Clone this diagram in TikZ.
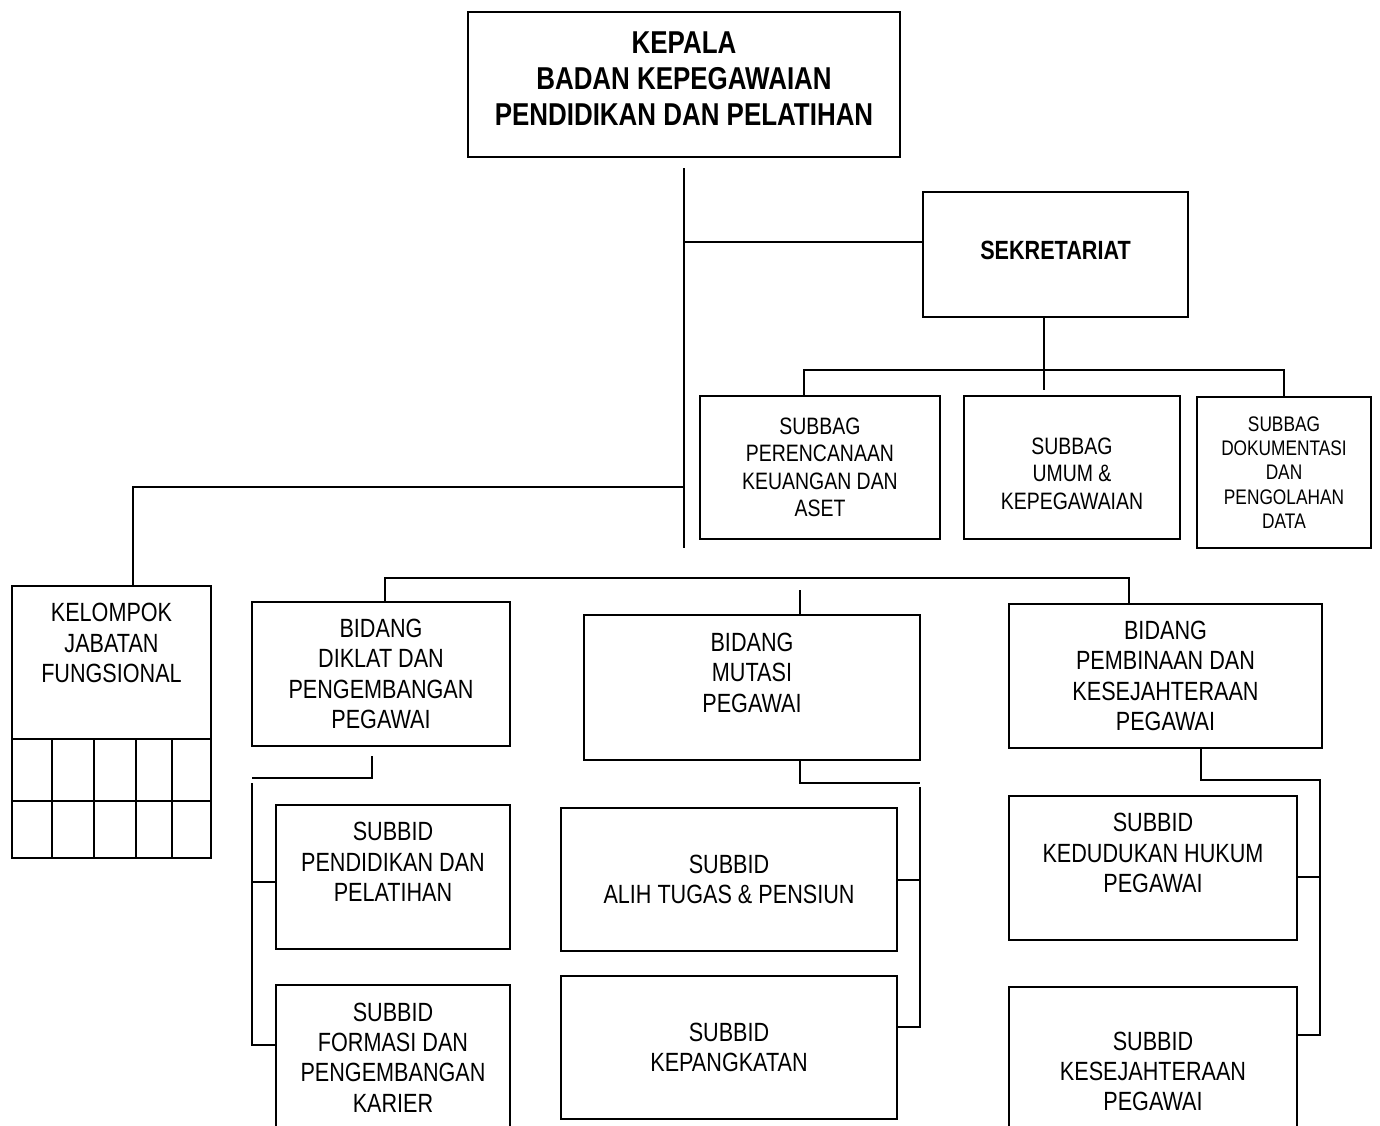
\documentclass[tikz,border=0pt]{standalone}
\usepackage{fontspec}
\setmainfont{Liberation Sans}[FakeStretch=0.82]
\usetikzlibrary{calc}
\newcommand{\textlift}[1]{\rule[-#1]{0pt}{#1}}
\newcommand{\textdrop}[1]{\rule{0pt}{#1}}

\begin{document}
\begin{tikzpicture}[x=0.02cm, y=-0.02cm, line width=1pt,
  unit/.style 2 args={draw, inner sep=0pt, outer sep=0pt, align=center,
    minimum width=#1*0.02cm, minimum height=#2*0.02cm},
  headtext/.style={font=\bfseries\fontsize{18}{20.5}\selectfont},
  boldtext/.style={font=\bfseries\fontsize{15}{17.3}\selectfont},
  bigtext/.style={font=\fontsize{15}{17.3}\selectfont},
  midtext/.style={font=\fontsize{13.5}{15.6}\selectfont},
  smalltext/.style={font=\fontsize{12}{13.8}\selectfont}]
  \useasboundingbox (0,0) rectangle (1380,1126);

  % Kepala
  \node[unit={432}{145}, headtext] (kepala) at (684,84.5) {KEPALA\\BADAN KEPEGAWAIAN\\PENDIDIKAN DAN PELATIHAN\textlift{7pt}};

  % Sekretariat dan subbag
  \node[unit={265}{125}, boldtext] (sekre) at (1055.5,254.5) {SEKRETARIAT\textlift{5pt}};
  \node[unit={240}{143}, midtext] (sbrenc) at (820,467.5) {SUBBAG\\PERENCANAAN\\KEUANGAN DAN\\ASET};
  \node[unit={216}{143}, midtext] (sbumum) at (1072,467.5) {\textdrop{16.5pt}SUBBAG\\UMUM \&\\KEPEGAWAIAN};
  \node[unit={174}{151}, smalltext] (sbdok) at (1284,472.5) {SUBBAG\\DOKUMENTASI\\DAN\\PENGOLAHAN\\DATA};

  % Kelompok jabatan fungsional
  \node[unit={199}{153}, bigtext] (kjf) at (111.5,662.5) {KELOMPOK\\JABATAN\\FUNGSIONAL\textlift{22pt}};
  \draw (kjf.south west) rectangle (211,858);
  \draw (12,801) -- (211,801);
  \foreach \gx in {52,94,136,172}
    \draw (\gx,739) -- (\gx,858);

  % Bidang
  \node[unit={258}{144}, bigtext] (bdiklat) at (381,674) {BIDANG\\DIKLAT DAN\\PENGEMBANGAN\\PEGAWAI};
  \node[unit={336}{145}, bigtext] (bmutasi) at (752,687.5) {BIDANG\\MUTASI\\PEGAWAI\textlift{17pt}};
  \node[unit={313}{144}, bigtext] (bbina) at (1165.5,676) {BIDANG\\PEMBINAAN DAN\\KESEJAHTERAAN\\PEGAWAI};

  % Subbid
  \node[unit={234}{144}, bigtext] (sdidik) at (393,877) {SUBBID\\PENDIDIKAN DAN\\PELATIHAN\textlift{17pt}};
  \node[unit={234}{145}, bigtext] (sformasi) at (393,1057.5) {SUBBID\\FORMASI DAN\\PENGEMBANGAN\\KARIER};
  \node[unit={336}{143}, bigtext] (salih) at (729,879.5) {SUBBID\\ALIH TUGAS \& PENSIUN};
  \node[unit={336}{143}, bigtext] (spangkat) at (729,1047.5) {SUBBID\\KEPANGKATAN};
  \node[unit={288}{144}, bigtext] (shukum) at (1153,868) {SUBBID\\KEDUDUKAN HUKUM\\PEGAWAI\textlift{17pt}};
  \node[unit={288}{169}, bigtext] (ssejah) at (1153,1071.5) {SUBBID\\KESEJAHTERAAN\\PEGAWAI};

  % Garis komando
  \coordinate (trunk) at (684,168);
  \draw (trunk) -- (684,548);
  \draw (trunk |- 0,242) -- (sekre.west |- 0,242);
  \draw (trunk |- 0,487) -| (kjf.north -| 133,0);

  \draw (sekre.south -| 1044,0) -- (1044,390);
  \draw (sbrenc.north -| 804,0) |- (1284,370) -- (sbdok.north);

  \draw (bdiklat.north -| 385,0) |- (1129,578) -- (bbina.north -| 1129,0);
  \draw (800,590) -- (bmutasi.north -| 800,0);

  % Bidang ke subbid
  \draw (bdiklat.south -| 372,0) ++(0,10) |- (252,778);
  \draw (252,783) -- (252,1045) -- (sformasi.west |- 0,1045);
  \draw (252,882) -- (sdidik.west |- 0,882);

  \draw (bmutasi.south -| 800,0) |- (920,783);
  \draw (920,787) |- (spangkat.east |- 0,1027);
  \draw (920,880) -- (salih.east |- 0,880);

  \draw (bbina.south -| 1201,0) |- (1320,780) |- (ssejah.east |- 0,1035);
  \draw (1320,877) -- (shukum.east |- 0,877);
\end{tikzpicture}
\end{document}
